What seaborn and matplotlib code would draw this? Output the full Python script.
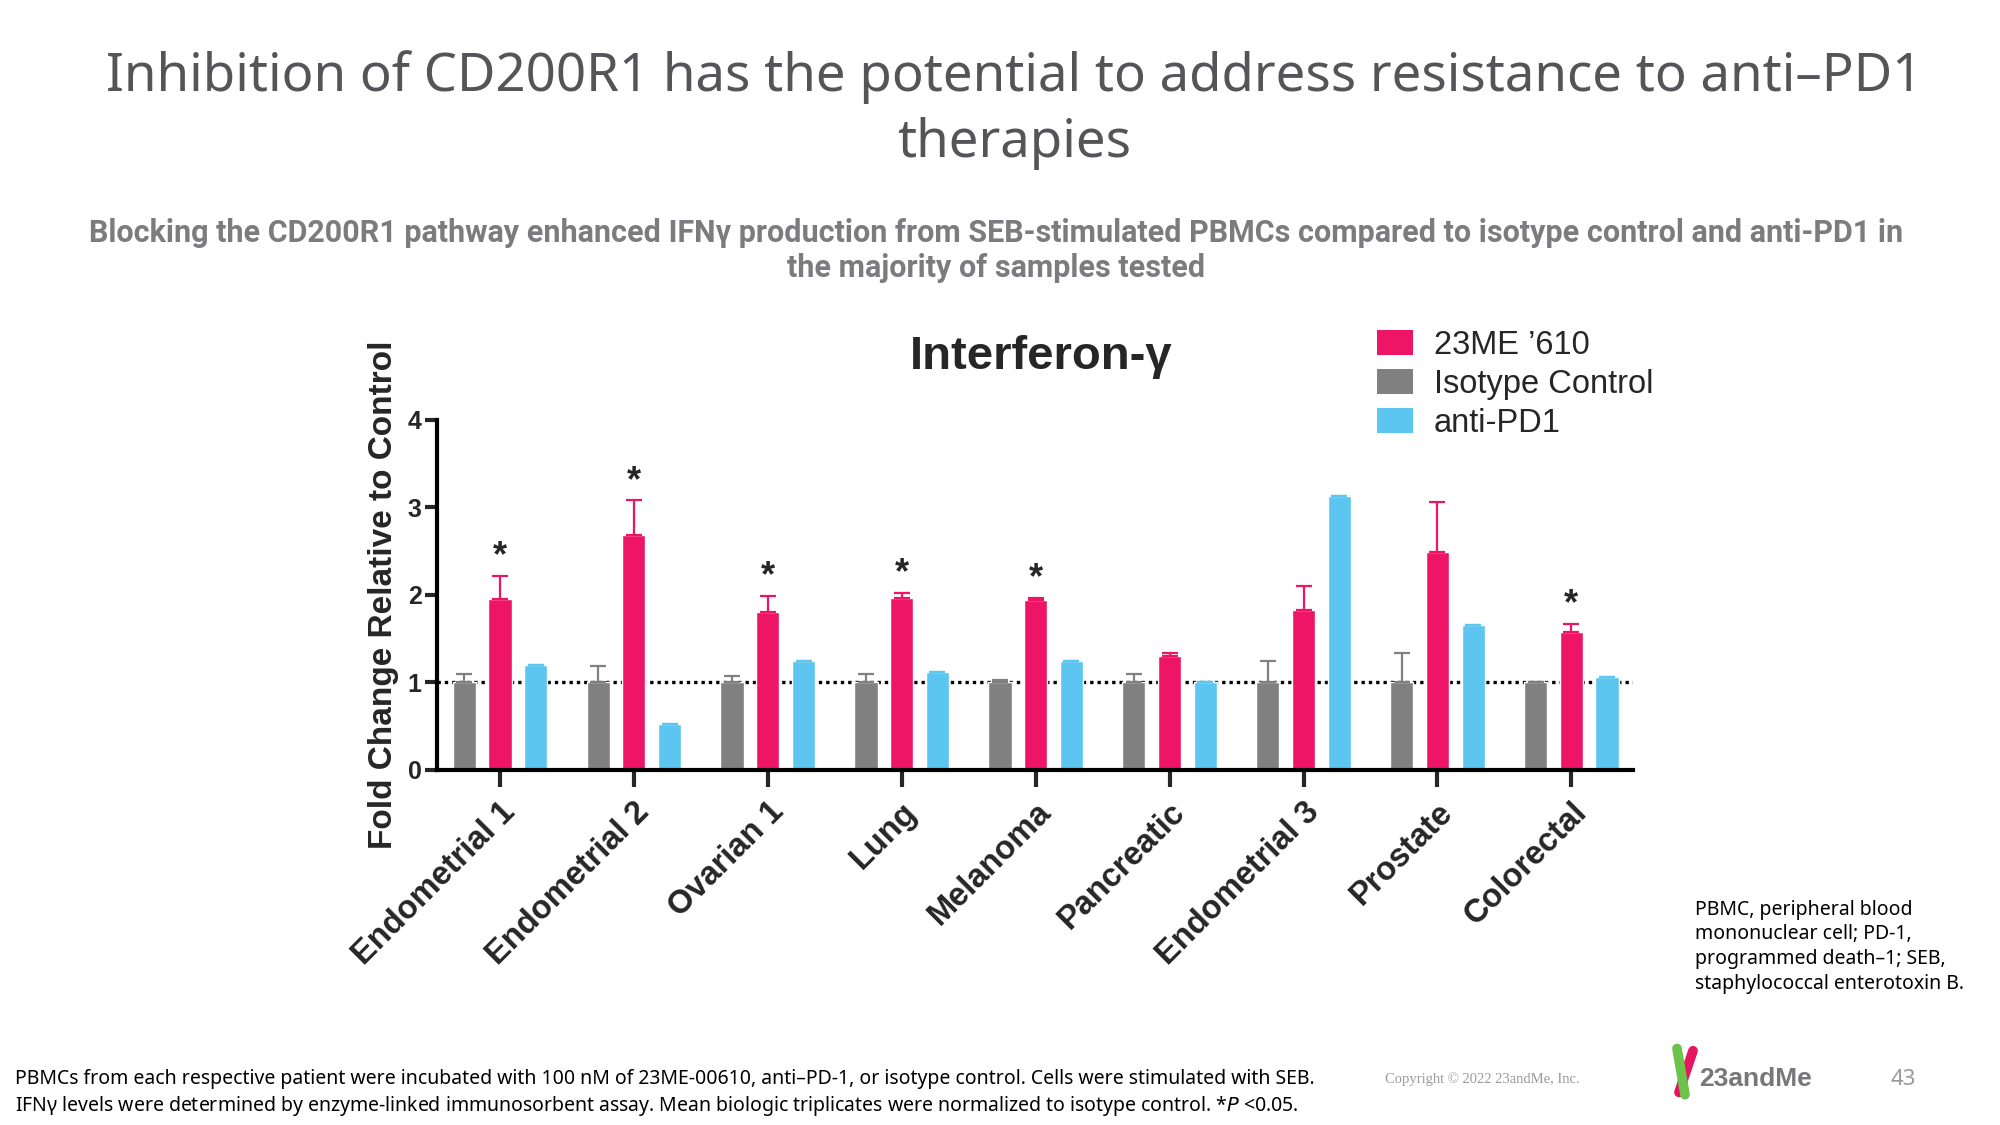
import numpy as np
import pandas as pd
import seaborn as sns
import matplotlib.pyplot as plt
from matplotlib.patches import Patch
from matplotlib.lines import Line2D

# values (fold change vs isotype control)
samples = ['Endometrial 1', 'Endometrial 2', 'Ovarian 1', 'Lung', 'Melanoma',
           'Pancreatic', 'Endometrial 3', 'Prostate', 'Colorectal']
iso_mean = [1.00, 1.00, 1.00, 1.00, 1.00, 1.00, 1.00, 1.00, 1.00]
iso_err = [0.10, 0.19, 0.07, 0.10, 0.03, 0.10, 0.25, 0.34, 0.00]
drug_mean = [1.95, 2.68, 1.80, 1.97, 1.94, 1.30, 1.83, 2.49, 1.58]
drug_err = [0.27, 0.40, 0.19, 0.05, 0.03, 0.04, 0.27, 0.57, 0.09]
pd1_mean = [1.20, 0.52, 1.25, 1.12, 1.25, 1.01, 3.13, 1.66, 1.06]
pd1_err = [0.00, 0.00, 0.00, 0.00, 0.00, 0.00, 0.00, 0.00, 0.00]
signif = [True, True, True, True, True, False, False, False, True]

treatments = ['Isotype Control', "23ME \u2019610", 'anti-PD1']
colors = {'Isotype Control': '#808080', "23ME \u2019610": '#ee1566', 'anti-PD1': '#5cc6f0'}

df = pd.concat([
    pd.DataFrame({'sample': samples, 'value': iso_mean, 'err': iso_err, 'treatment': treatments[0]}),
    pd.DataFrame({'sample': samples, 'value': drug_mean, 'err': drug_err, 'treatment': treatments[1]}),
    pd.DataFrame({'sample': samples, 'value': pd1_mean, 'err': pd1_err, 'treatment': treatments[2]}),
])

sns.set_style('white')
plt.rcParams['font.family'] = ['Liberation Sans', 'DejaVu Sans']

fig = plt.figure(figsize=(20, 11.25), dpi=100)
ax = fig.add_axes([0.2185, 0.3156, 0.598, 0.3111])

sns.barplot(data=df, x='sample', y='value', hue='treatment', hue_order=treatments,
            palette=colors, width=0.8, gap=0.35, errorbar=None, legend=False,
            saturation=1, ax=ax, zorder=2)

# upward-only error bars, same colour as the bar
for cont, t in zip(ax.containers, treatments):
    sub = df[df['treatment'] == t]
    xs = [p.get_x() + p.get_width() / 2 for p in cont]
    hs = [p.get_height() for p in cont]
    e = sub['err'].values
    ax.errorbar(xs, hs, yerr=[np.zeros(len(e)), e], fmt='none', ecolor=colors[t],
                elinewidth=1.6, capsize=6, capthick=1.6, zorder=3)
    if t == treatments[1]:
        for x, h, ee, s in zip(xs, hs, e, signif):
            if s:
                ax.text(x, h + ee + 0.02, '*', ha='center', va='bottom',
                        fontsize=26, fontweight='bold')

ax.axhline(1.0, color='black', linestyle=(0, (1, 1.2)), linewidth=2.4, zorder=1)

ax.set_xlim(-0.47, 8.46)
ax.set_ylim(0, 4)
ax.set_yticks([0, 1, 2, 3, 4])
ax.set_ylabel('Fold Change Relative to Control', fontsize=24, fontweight='bold', labelpad=6)
ax.set_xlabel('')
for s in ['top', 'right']:
    ax.spines[s].set_visible(False)
for s in ['left', 'bottom']:
    ax.spines[s].set_linewidth(3)
    ax.spines[s].set_color('black')
ax.tick_params(axis='y', length=9, width=3, labelsize=18, pad=2, left=True)
ax.tick_params(axis='x', length=12, width=3, labelsize=23.5, pad=7, bottom=True)
for lab in ax.get_yticklabels():
    lab.set_fontweight('bold')
ax.set_xticks(range(len(samples)))
ax.set_xticklabels(samples, rotation=45, ha='right', rotation_mode='anchor', fontweight='bold')

ax.text(0.505, 1.18, 'Interferon-\u03b3', transform=ax.transAxes, ha='center', va='center',
        fontsize=34, fontweight='bold')

handles = [Patch(facecolor=colors[t], edgecolor='none') for t in [treatments[1], treatments[0], treatments[2]]]
fig.legend(handles, [treatments[1], treatments[0], treatments[2]], loc='upper left',
           bbox_to_anchor=(0.6885, 0.707), frameon=False, fontsize=23.5,
           handlelength=1.1, handleheight=0.8, handletextpad=0.65, labelspacing=0.25,
           borderpad=0, borderaxespad=0)

# slide texts
slide_font = ['Noto Sans', 'DejaVu Sans']
fig.text(0.507, 0.902, 'Inhibition of CD200R1 has the potential to address resistance to anti\u2013PD1\ntherapies',
         ha='center', va='center', fontsize=38, color='#545459', family=slide_font, linespacing=1.32)
fig.text(0.498, 0.777, 'Blocking the CD200R1 pathway enhanced IFN\u03b3 production from SEB-stimulated PBMCs compared to isotype control and anti-PD1 in\nthe majority of samples tested',
         ha='center', va='center', fontsize=22, fontweight='bold', color='#7c7c80',
         family=['Roboto', 'DejaVu Sans'], linespacing=1.2)
fig.text(0.8475, 0.2, 'PBMC, peripheral blood\nmononuclear cell; PD-1,\nprogrammed death\u20131; SEB,\nstaphylococcal enterotoxin B.',
         ha='left', va='top', fontsize=14, color='black', family=slide_font, linespacing=1.3)
fig.text(0.0075, 0.028, 'PBMCs from each respective patient were incubated with 100 nM of 23ME-00610, anti\u2013PD-1, or isotype control. Cells were stimulated with SEB.\nIFN\u03b3 levels were determined by enzyme-linked immunosorbent assay. Mean biologic triplicates were normalized to isotype control. *$P$ <0.05.',
         ha='left', va='center', fontsize=14, color='black', family=slide_font, linespacing=1.3)
fig.text(0.6925, 0.0405, 'Copyright \u00a9 2022 23andMe, Inc.', ha='left', va='center', fontsize=10.5,
         color='#9a9a9a', family=['Liberation Serif', 'DejaVu Serif'])
# logo: two crossing strokes plus wordmark
fig.add_artist(Line2D([0.8395, 0.8465], [0.0290, 0.0660], color='#e3165f', linewidth=7,
                      solid_capstyle='round', transform=fig.transFigure))
fig.add_artist(Line2D([0.8425, 0.8385], [0.0270, 0.0680], color='#6cc24a', linewidth=7,
                      solid_capstyle='round', transform=fig.transFigure))
fig.text(0.8495, 0.0405, '23andMe', ha='left', va='center', fontsize=19, fontweight='bold',
         color='#77777b', family=['Liberation Sans', 'DejaVu Sans'])
fig.text(0.9515, 0.0405, '43', ha='center', va='center', fontsize=16, color='#9a9a9e', family=slide_font)

fig.savefig('out.png', dpi=100)
